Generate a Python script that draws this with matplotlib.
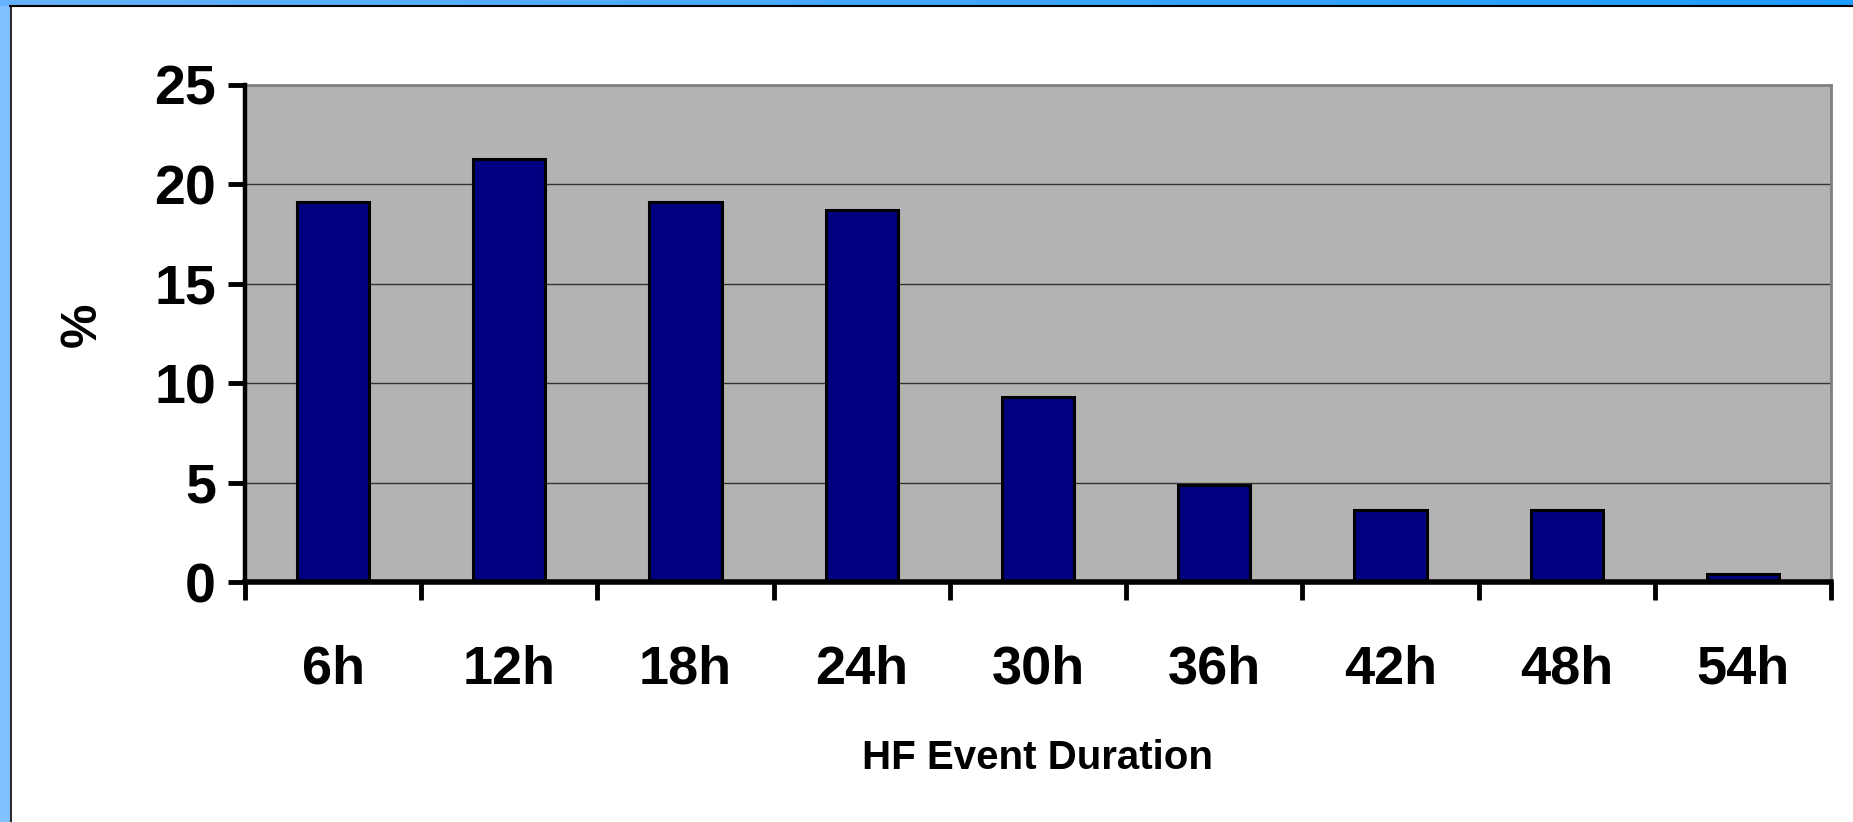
import matplotlib.pyplot as plt
import numpy as np
from matplotlib.patches import Rectangle

# HF event duration histogram (percent of events)
durations = ['6h', '12h', '18h', '24h', '30h', '36h', '42h', '48h', '54h']
percent = [19.1, 21.3, 19.1, 18.7, 9.3, 4.9, 3.6, 3.6, 0.4]
yticks = [0, 5, 10, 15, 20, 25]

plt.rcParams['font.family'] = ['Liberation Sans', 'DejaVu Sans']
plt.rcParams['font.weight'] = 'bold'

W, H = 1853, 822
fig = plt.figure(figsize=(W / 100, H / 100), dpi=100)
fig.patch.set_facecolor('white')

# slide frame: blue strips on the top and left
grad = fig.add_axes([0, 1 - 6 / H, 1, 6 / H])
grad.imshow(np.linspace(0, 1, 256)[None, :], aspect='auto',
            cmap=plt.matplotlib.colors.LinearSegmentedColormap.from_list(
                'b', ['#66b3ff', '#1e9bff']))
grad.set_axis_off()
fig.patches.append(Rectangle((0, 0), 10 / W, 1 - 6 / H, transform=fig.transFigure,
                             facecolor='#80c2ff', edgecolor='none', zorder=0))
fig.lines.append(plt.Line2D([10.5 / W, 10.5 / W], [0, 1 - 6 / H], transform=fig.transFigure,
                            color='black', lw=1.2))
fig.lines.append(plt.Line2D([10 / W, 1], [1 - 6.5 / H, 1 - 6.5 / H], transform=fig.transFigure,
                            color='black', lw=1.5))

left, right, top, bottom = 245, 1831, 85, 582
ax = fig.add_axes([left / W, 1 - bottom / H, (right - left) / W, (bottom - top) / H])
ax.set_facecolor('#b3b3b3')

x = np.arange(len(durations))
ax.bar(x, percent, width=0.41, color='#000080', edgecolor='black', linewidth=2.2, zorder=3)

ax.set_xlim(-0.5, len(durations) - 0.5)
ax.set_ylim(0, 25)
ax.set_yticks(yticks)
ax.yaxis.grid(True, color='#333333', linewidth=1.0, zorder=1)
ax.set_axisbelow(True)

# major ticks at category boundaries, labels at centres
ax.set_xticks(np.arange(-0.5, len(durations), 1.0))
ax.set_xticklabels([])
ax.set_xticks(x, minor=True)
ax.set_xticklabels(durations, minor=True, fontsize=39, fontweight='bold')
ax.tick_params(axis='x', which='major', direction='out', length=13, width=3.5, color='black')
ax.tick_params(axis='x', which='minor', length=0, pad=45)
ax.tick_params(axis='y', direction='out', length=12, width=3.5, color='black',
               labelsize=40, pad=9)
for lab in ax.get_yticklabels():
    lab.set_fontweight('bold')

for s in ['top', 'right']:
    ax.spines[s].set_color('#808080')
    ax.spines[s].set_linewidth(2)
ax.spines['left'].set_linewidth(3.2)
ax.spines['bottom'].set_linewidth(4)
ax.spines['left'].set_zorder(4)
ax.spines['bottom'].set_zorder(4)

ax.set_xlabel('HF Event Duration', fontsize=29, fontweight='bold', labelpad=32)
fig.text(83 / W, 1 - 325 / H, '%', rotation=90, fontsize=36, fontweight='bold',
         ha='center', va='center')

fig.savefig('out.png', dpi=100)
